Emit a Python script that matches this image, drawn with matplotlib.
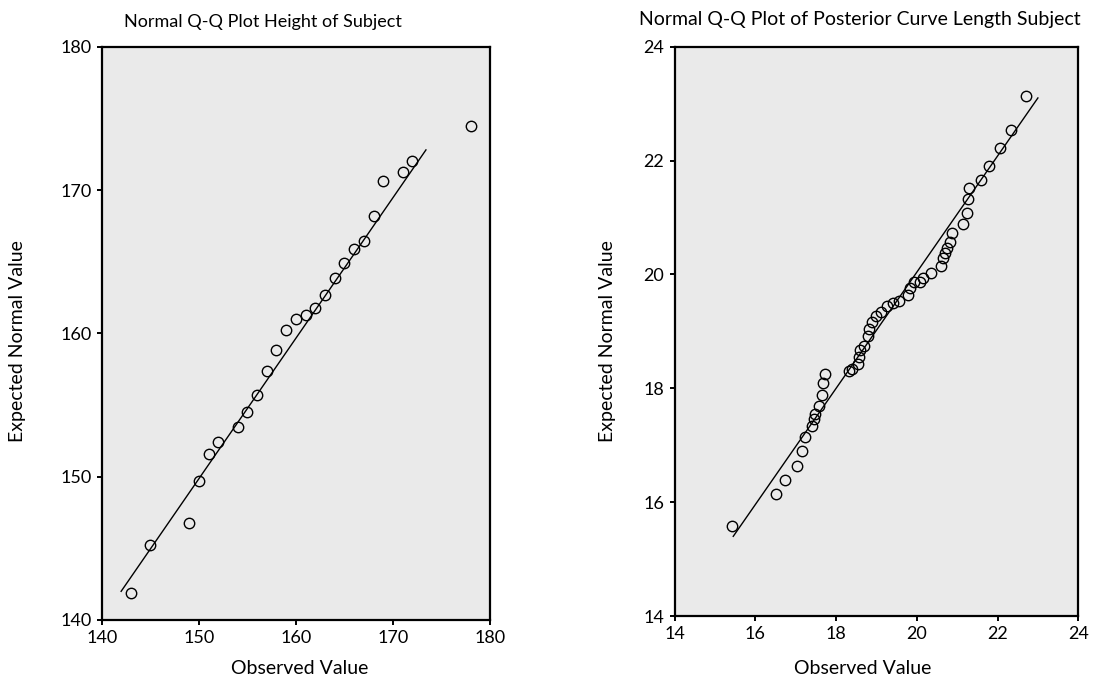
import matplotlib.pyplot as plt

# Datos: Q-Q normal de la altura
height_obs = [143, 145, 149, 150, 151, 152, 154, 155, 156, 157, 158, 159, 160,
              161, 162, 163, 164, 165, 166, 167, 168, 169, 171, 172, 178]
height_exp = [141.9, 145.2, 146.8, 149.7, 151.6, 152.45, 153.5, 154.5, 155.7,
              157.35, 158.85, 160.2, 161.0, 161.3, 161.8, 162.7, 163.85, 164.9,
              165.9, 166.45, 168.2, 170.6, 171.25, 172.0, 174.5]
height_line_x = [142.0, 173.4]
height_line_y = [142.0, 172.8]

# Q-Q normal de la longitud de la curva posterior
curve_obs = [15.43, 16.50, 16.74, 17.02, 17.15, 17.24, 17.40, 17.44, 17.48, 17.58,
             17.66, 17.67, 17.72, 18.31, 18.40, 18.55, 18.57, 18.60, 18.70, 18.79,
             18.82, 18.88, 18.98, 19.12, 19.25, 19.42, 19.56, 19.78, 19.83, 19.93,
             20.07, 20.16, 20.35, 20.60, 20.65, 20.69, 20.74, 20.81, 20.87, 21.15,
             21.25, 21.27, 21.30, 21.59, 21.80, 22.06, 22.33, 22.71]
curve_exp = [15.58, 16.14, 16.39, 16.63, 16.90, 17.15, 17.33, 17.46, 17.54, 17.69,
             17.88, 18.09, 18.26, 18.31, 18.34, 18.43, 18.55, 18.68, 18.75, 18.91,
             19.04, 19.16, 19.27, 19.34, 19.45, 19.50, 19.53, 19.64, 19.77, 19.86,
             19.86, 19.93, 20.03, 20.14, 20.29, 20.37, 20.46, 20.57, 20.72, 20.89,
             21.08, 21.32, 21.51, 21.66, 21.91, 22.22, 22.54, 23.13]
curve_line_x = [15.45, 23.0]
curve_line_y = [15.4, 23.1]

plt.rcParams['font.family'] = ['Lato', 'DejaVu Sans']

fig = plt.figure(figsize=(10.95, 6.81), dpi=100)
ax1 = fig.add_axes([0.0929, 0.0896, 0.3546, 0.8418])
ax2 = fig.add_axes([0.6162, 0.0954, 0.3685, 0.8360])


def dibujar_qq(ax, obs, esp, lx, ly, lim, ticks):
    '''
    Dibuja un grafico Q-Q con circulos abiertos y la recta de referencia
    '''
    ax.set_facecolor('#eaeaea')
    ax.plot(lx, ly, color='black', linewidth=1.0)
    ax.plot(obs, esp, linestyle='none', marker='o', markersize=7.5,
            markerfacecolor='none', markeredgecolor='black', markeredgewidth=1.0)
    ax.set_xlim(lim)
    ax.set_ylim(lim)
    ax.set_xticks(ticks)
    ax.set_yticks(ticks)
    for s in ax.spines.values():
        s.set_linewidth(1.6)
    ax.tick_params(length=3.5, width=1.4, labelsize=13, pad=4)


dibujar_qq(ax1, height_obs, height_exp, height_line_x, height_line_y,
           (140, 180), [140, 150, 160, 170, 180])
dibujar_qq(ax2, curve_obs, curve_exp, curve_line_x, curve_line_y,
           (14, 24), [14, 16, 18, 20, 22, 24])

# Titulos y etiquetas de ejes
fig.text(263 / 1095, 1 - 22 / 681, 'Normal Q-Q Plot Height of Subject',
         ha='center', va='center', fontsize=13)
fig.text(860 / 1095, 1 - 19 / 681, 'Normal Q-Q Plot of Posterior Curve Length Subject',
         ha='center', va='center', fontsize=14)
fig.text(300 / 1095, 1 - 668 / 681, 'Observed Value', ha='center', va='center', fontsize=14)
fig.text(863 / 1095, 1 - 668 / 681, 'Observed Value', ha='center', va='center', fontsize=14)
fig.text(18 / 1095, 1 - 341 / 681, 'Expected Normal Value', ha='center', va='center',
         rotation=90, fontsize=14)
fig.text(608 / 1095, 1 - 341 / 681, 'Expected Normal Value', ha='center', va='center',
         rotation=90, fontsize=14)

fig.savefig('out.png', dpi=100)
